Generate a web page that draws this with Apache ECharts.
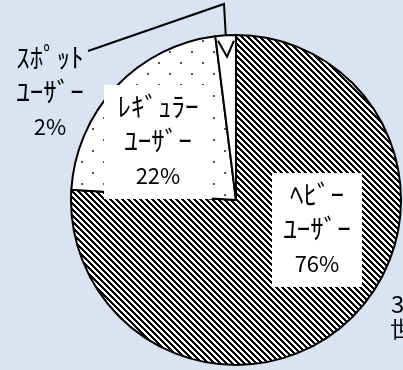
<!DOCTYPE html>
<html>
<head>
<meta charset="utf-8">
<script src="https://cdn.jsdelivr.net/npm/echarts@6/dist/echarts.min.js"></script>
<style>
  html, body { margin: 0; padding: 0; background: #dae3f2; }
  #main { width: 403px; height: 370px; }
</style>
</head>
<body>
<div id="main"></div>
<script>
// ユーザー区分と構成比(%)
let userTypes = ['ﾍﾋﾞｰ\nﾕｰｻﾞｰ', 'ﾚｷﾞｭﾗｰ\nﾕｰｻﾞｰ', 'ｽﾎﾟｯﾄ\nﾕｰｻﾞｰ']
let shares = [76, 22, 2]
// 右端で切れている別ラベル
let cutTexts = ['3', '世']

let cx = 236
let cy = 200
let radius = 165

// 斜線パターン
function stripePattern() {
  let c = document.createElement('canvas')
  c.width = 6
  c.height = 6
  let ctx = c.getContext('2d')
  let img = ctx.createImageData(6, 6)
  for (let y = 0; y < 6; y++) {
    for (let x = 0; x < 6; x++) {
      let k = ((x - y) % 6 + 6) % 6
      let v = k < 3 ? 0 : 255
      let i = (y * 6 + x) * 4
      img.data[i] = v
      img.data[i + 1] = v
      img.data[i + 2] = v
      img.data[i + 3] = 255
    }
  }
  ctx.putImageData(img, 0, 0)
  return c
}

// ドットパターン
function dotPattern() {
  let c = document.createElement('canvas')
  c.width = 22
  c.height = 22
  let ctx = c.getContext('2d')
  ctx.fillStyle = '#fff'
  ctx.fillRect(0, 0, 22, 22)
  ctx.fillStyle = '#555'
  ctx.fillRect(4, 18, 2, 2)
  ctx.fillRect(15, 7, 2, 2)
  return c
}

let fills = [
  { image: stripePattern(), repeat: 'repeat' },
  { image: dotPattern(), repeat: 'repeat' },
  '#ffffff'
]
let boxes = [
  { x: 317, y: 230, width: 90, bg: '#fff' },
  { x: 158, y: 142, width: 108, bg: '#fff' },
  { x: 50, y: 93, width: 72, bg: 'transparent' }
]

let pieData = userTypes.map((name, i) => {
  return {
    name: name,
    value: shares[i],
    itemStyle: { color: fills[i] },
    label: {
      position: i < 2 ? 'inside' : 'outside',
      backgroundColor: boxes[i].bg,
      width: boxes[i].width,
      padding: [5, 0]
    },
    labelLine: { show: i === 2 }
  }
})

function arrowTip() {
  let mid = (100 - shares[2] / 2) / 100 * Math.PI * 2
  return [cx + radius * 0.87 * Math.sin(mid), cy - radius * 0.87 * Math.cos(mid)]
}

let myChart = echarts.init(document.getElementById('main'))
let option = {
  backgroundColor: '#dae3f2',
  animation: false,
  series: [
    {
      type: 'pie',
      center: [cx, cy],
      radius: radius,
      startAngle: 90,
      clockwise: true,
      avoidLabelOverlap: false,
      itemStyle: {
        borderColor: '#000',
        borderWidth: 2
      },
      label: {
        show: true,
        color: '#000',
        fontFamily: 'Noto Sans CJK JP',
        align: 'center',
        formatter: p => p.name.split('\n').map(s => '{k|' + s + '}').join('\n') + '\n{p|' + p.value + '%}',
        rich: {
          k: { fontSize: 27, lineHeight: 34, fontFamily: 'Noto Sans CJK JP', color: '#000' },
          p: { fontSize: 22, lineHeight: 36, fontFamily: 'Noto Sans CJK JP', color: '#000' }
        }
      },
      labelLine: {
        lineStyle: { color: '#000', width: 2 }
      },
      labelLayout: function (params) {
        let b = boxes[params.dataIndex]
        let res = { x: b.x, y: b.y, align: 'center', verticalAlign: 'middle' }
        if (params.dataIndex === 2) {
          let tip = arrowTip()
          res.labelLinePoints = [tip, [tip[0] - 3, 4], [88, 51]]
        }
        return res
      },
      data: pieData
    }
  ],
  graphic: [
    {
      type: 'polyline',
      shape: (function () {
        let tip = arrowTip()
        return { points: [[tip[0] - 9, tip[1] - 16], tip, [tip[0] + 7, tip[1] - 16]] }
      })(),
      style: { stroke: '#000', lineWidth: 2, fill: null },
      z: 100
    },
    {
      type: 'text',
      left: 391,
      top: 292,
      style: { text: cutTexts[0], font: '24px "Noto Sans CJK JP"', fill: '#000' }
    },
    {
      type: 'text',
      left: 390,
      top: 318,
      style: { text: cutTexts[1], font: '22px "Noto Sans CJK JP"', fill: '#000' }
    }
  ]
}
myChart.setOption(option)
</script>
</body>
</html>
